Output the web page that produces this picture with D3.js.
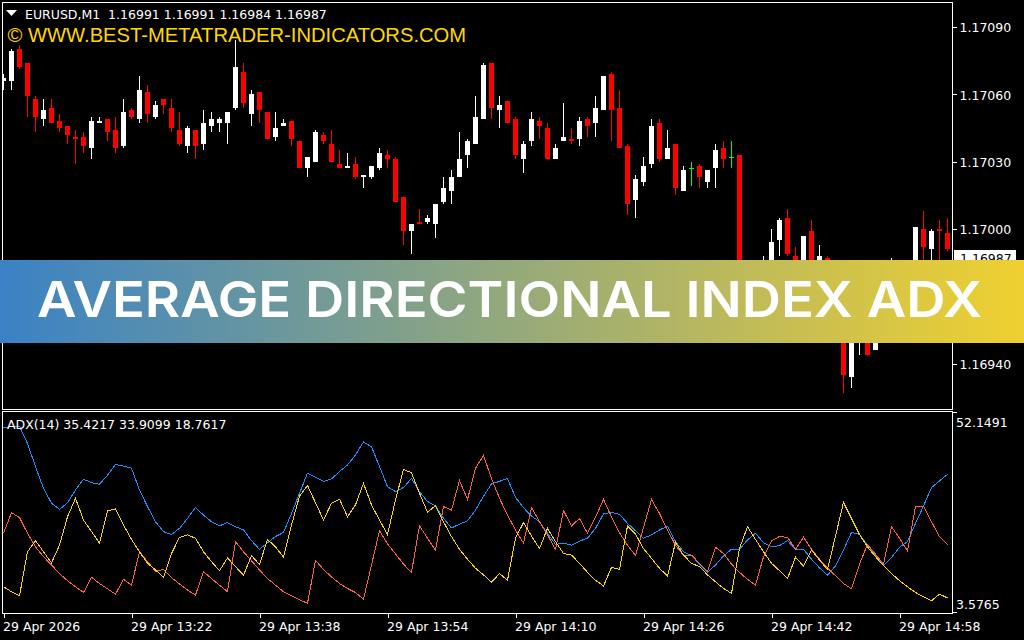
<!DOCTYPE html>
<html>
<head>
<meta charset="utf-8">
<script src="https://cdn.jsdelivr.net/npm/d3@7"></script>
<style>
  html, body { margin: 0; padding: 0; background: #000; }
  svg { display: block; }
  text { font-family: "DejaVu Sans", sans-serif; font-size: 12.5px; fill: #fff; }
</style>
</head>
<body>
<svg id="chart" width="1024" height="640"></svg>
<script>
// candle values, in points above/below 1.17000
const highs = [69,80,82,74,59,58,58,51,46,44,43,50,50,49,50,58,54,68,64,57,58,58,52,46,44,53,52,50,52,84,74,62,61,52,52,49,48,39,32,44,43,44,35,
  34,32,24,28,36,35,32,14,2,9,6,11,23,26,43,40,59,74,74,59,57,50,39,52,50,47,38,56,45,50,50,59,68,70,62,38,24,32,49,49,44,38,
  28,30,29,26,38,39,39,33,-21,-18,-12,0,5,9,-8,-3,4,-7,-12,-27,-41,-43,-45,-43,-41,-18,-13,-15,-16,1,8,0,4,5];
const lows = [62,62,71,50,43,46,47,43,38,29,34,31,47,39,34,36,49,47,47,49,51,43,37,34,31,35,43,43,38,53,54,46,47,40,39,46,37,27,23,30,38,30,27,
  27,22,18,22,26,27,12,-7,-11,2,2,-4,11,11,23,27,38,49,49,45,47,31,25,37,40,31,31,39,38,37,41,41,53,39,36,6,5,19,27,30,31,15,
  17,19,18,18,18,27,27,-35,-34,-36,-27,-23,-12,-12,-17,-25,-27,-28,-36,-50,-73,-71,-56,-56,-54,-50,-36,-30,-25,-23,-15,-16,-16,-10];
const opens = [66,66,80,74,58,49,54,48,46,41,41,36,47,49,44,37,53,49,61,50,58,54,44,37,44,38,46,47,47,54,70,51,61,52,41,46,48,39,27,30,42,38,29,
  27,29,23,23,27,33,31,14,-1,3,3,2,12,17,23,33,38,49,74,53,57,49,31,39,48,45,31,39,40,40,49,47,53,69,54,37,13,21,29,47,31,38,
  17,27,28,21,27,36,32,33,-27,-32,-25,-18,-5,5,-12,-21,-1,-25,-13,-32,-43,-66,-51,-45,-54,-47,-34,-27,-18,-21,0,-9,0,-2];
const closes = [67,79,72,59,50,53,47,45,42,40,37,48,48,43,36,52,50,62,51,55,55,45,38,45,37,47,49,49,52,72,56,60,53,40,45,47,40,27,32,43,39,30,27,
  28,23,24,28,34,31,12,-1,2,2,5,11,18,23,31,39,50,73,54,55,47,33,38,49,46,31,36,41,39,48,46,54,68,53,36,11,22,28,46,31,36,18,
  26,27,23,26,35,31,32,-32,-32,-23,-16,-6,4,-11,-15,-3,-23,-12,-32,-45,-65,-45,-47,-56,-47,-32,-25,-18,-23,1,-8,-1,-1,-9];

// indicator lines, one value per bar
const adxMain = [48.4,48.6,48.7,44.5,38.9,33.6,30.0,28.5,30.1,33.2,35.8,35.0,34.6,36.8,39.4,39.0,38.5,33.2,29.2,25.5,23.1,22.4,23.9,26.3,29.0,27.1,25.5,24.5,25.3,24.3,23.5,20.9,18.8,20.4,21.9,22.9,27.5,32.4,37.3,36.3,35.3,35.9,37.7,
  39.3,41.7,44.9,43.7,38.9,34.0,32.8,33.8,36.0,32.8,30.4,29.4,26.3,24.0,24.9,25.7,28.3,31.7,34.7,35.3,36.0,31.4,28.9,26.9,25.5,22.7,20.0,20.3,19.8,20.8,21.5,23.9,27.4,27.8,27.3,25.1,23.3,21.5,22.3,23.5,24.4,20.7,
  18.2,17.3,15.2,13.2,15.0,17.2,18.8,18.8,21.1,22.7,20.4,19.4,19.7,20.9,18.8,18.8,16.4,14.3,12.5,14.8,18.6,22.9,22.4,19.8,17.4,14.8,16.8,19.3,20.7,25.1,29.3,33.8,35.4,37.0];
const plusDi = [9.7,8.5,7.5,18.2,20.9,18.2,15.5,19.8,26.7,31.2,25.9,23.1,20.3,28.1,28.6,24.7,21.2,18.2,15.4,13.8,12.0,17.8,21.7,22.3,21.5,18.2,15.8,13.6,16.7,14.6,12.5,17.3,15.1,21.2,19.4,16.9,24.7,31.7,34.3,30.1,25.9,30.0,31.0,
  26.7,29.6,34.8,29.6,25.9,22.4,30.8,38.2,37.4,32.4,27.8,29.4,25.5,21.9,18.8,16.4,14.2,12.6,10.8,12.9,11.3,21.5,25.3,22.0,19.0,23.9,20.7,17.8,17.4,15.4,13.2,11.3,9.9,14.4,13.9,24.5,22.5,19.0,16.6,14.2,12.3,20.5,
  17.4,15.4,14.6,12.6,10.9,9.3,8.1,19.0,24.3,21.2,18.2,15.4,13.6,11.7,16.9,14.7,18.6,16.2,13.9,22.0,30.2,26.3,22.4,19.4,17.0,14.8,12.9,11.2,9.7,8.3,7.3,6.3,7.9,7.0];
const minusDi = [22.7,27.7,26.5,22.7,19.4,17.0,15.0,12.9,11.2,9.7,8.3,12.0,10.5,9.2,7.9,11.5,10.1,18.2,15.8,13.5,13.9,11.9,10.4,8.9,7.7,13.4,11.7,10.1,8.5,20.7,18.2,16.0,13.8,11.7,10.1,8.5,7.5,6.5,5.7,16.1,13.9,12.1,10.5,
  9.3,8.3,6.7,15.0,23.3,20.1,17.7,15.2,13.2,24.5,21.5,18.6,29.2,28.3,35.5,30.9,38.5,41.6,36.0,31.2,27.1,23.5,20.3,28.9,25.5,22.3,18.8,28.2,24.5,26.3,22.7,26.6,30.9,26.7,22.8,19.8,17.3,24.1,30.9,27.5,23.5,19.8,
  17.3,17.4,15.4,13.4,19.3,17.8,15.2,13.2,11.5,10.1,17.0,20.9,21.9,21.7,18.8,21.7,18.8,16.4,14.2,12.4,10.5,9.2,15.2,20.0,17.6,15.2,24.3,21.5,18.4,29.2,29.3,25.5,21.9,19.9];

// axis labels
const priceTicks = [90, 60, 30, 0, -60];
const timeTickBars = [0, 16, 32, 48, 64, 80, 96, 112];
const timeLabels = ["29 Apr 2026", "29 Apr 13:22", "29 Apr 13:38", "29 Apr 13:54", "29 Apr 14:10", "29 Apr 14:26", "29 Apr 14:42", "29 Apr 14:58"];
const lastPrice = -13;
const adxMax = 52.1491, adxMin = 3.5765;

const left = 2.5, right = 952.5, mainTop = 2.5, mainBottom = 409.5, subTop = 411.5, subBottom = 613.5;

const svg = d3.select("#chart");
svg.append("rect").attr("width", 1024).attr("height", 640).attr("fill", "#000");

const defs = svg.append("defs");
defs.append("clipPath").attr("id", "mainClip").append("rect")
    .attr("x", left).attr("y", mainTop).attr("width", right - left).attr("height", mainBottom - mainTop);
defs.append("clipPath").attr("id", "subClip").append("rect")
    .attr("x", left).attr("y", subTop).attr("width", right - left).attr("height", subBottom - subTop);

const x = d3.scaleLinear().domain([0, 118]).range([3.5, 947.5]);
const y = d3.scaleLinear().domain([90, -60]).range([26.7, 363.7]);
const yAdx = d3.scaleLinear().domain([adxMin, adxMax]).range([612, 412]);

// candles
const bars = d3.range(highs.length);
const candleColor = i => opens[i] === closes[i] ? "#00ff00" : closes[i] > opens[i] ? "#fff" : "#ff0000";
const candles = svg.append("g").attr("clip-path", "url(#mainClip)").attr("shape-rendering", "crispEdges");

candles.selectAll(".wick")
    .data(bars)
    .enter()
    .append("rect")
    .attr("class", "wick")
    .attr("x", i => x(i) - 0.5)
    .attr("width", 1)
    .attr("y", i => y(highs[i]))
    .attr("height", i => y(lows[i]) - y(highs[i]))
    .attr("fill", candleColor);

candles.selectAll(".body")
    .data(bars)
    .enter()
    .append("rect")
    .attr("class", "body")
    .attr("x", i => x(i) - 2.5)
    .attr("width", 5)
    .attr("y", i => y(Math.max(opens[i], closes[i])))
    .attr("height", i => Math.max(1, Math.abs(y(opens[i]) - y(closes[i]))))
    .attr("fill", candleColor);

// indicator lines
const line = d3.line().x((d, i) => x(i)).y(d => yAdx(d));
const lines = svg.append("g").attr("clip-path", "url(#subClip)");
[[adxMain, "#1e90ff"], [minusDi, "#ff6347"], [plusDi, "#ffd700"]].forEach(([values, color]) => {
    lines.append("path")
        .attr("d", line(values))
        .attr("fill", "none")
        .attr("stroke", color)
        .attr("stroke-width", 1)
        .attr("shape-rendering", "crispEdges");
});

// panel frames
[[mainTop, mainBottom], [subTop, subBottom]].forEach(([top, bottom]) => {
    svg.append("rect")
        .attr("x", left).attr("y", top)
        .attr("width", right - left).attr("height", bottom - top)
        .attr("fill", "none").attr("stroke", "#fff").attr("stroke-width", 1)
        .attr("shape-rendering", "crispEdges");
});

// axes
const priceAxis = svg.append("g")
    .attr("transform", `translate(${right},0)`)
    .call(d3.axisRight(y).tickValues(priceTicks).tickSize(4).tickPadding(3)
        .tickFormat(d => (1.17 + d / 100000).toFixed(5)));
priceAxis.select(".domain").remove();
priceAxis.selectAll("line").attr("stroke", "#fff").attr("shape-rendering", "crispEdges");
priceAxis.selectAll("text").attr("dy", "0.4em");

const timeAxis = svg.append("g")
    .attr("transform", `translate(0,${subBottom})`)
    .call(d3.axisBottom(x).tickValues(timeTickBars).tickSize(4).tickPadding(5)
        .tickFormat((d, i) => timeLabels[i]));
timeAxis.select(".domain").remove();
timeAxis.selectAll("line").attr("stroke", "#fff").attr("shape-rendering", "crispEdges");
timeAxis.selectAll("text").attr("text-anchor", "start").attr("x", -1);

[[adxMax, 427, 412], [adxMin, 609, 612]].forEach(([v, base, tickY]) => {
    svg.append("line").attr("x1", right).attr("x2", right + 4).attr("y1", tickY).attr("y2", tickY)
        .attr("stroke", "#fff").attr("shape-rendering", "crispEdges");
    svg.append("text").attr("x", 956).attr("y", base).text(v.toFixed(4));
});

// last price box
svg.append("rect").attr("x", 954).attr("y", 250).attr("width", 62).attr("height", 16).attr("fill", "#fff");
svg.append("text").attr("x", 960).attr("y", 263).text((1.17 + lastPrice / 100000).toFixed(5)).style("fill", "#000");

// chart labels
svg.append("path").attr("d", "M6,10H17L11.5,16Z").attr("fill", "#fff");
svg.append("text").attr("x", 25).attr("y", 18.5).attr("xml:space", "preserve")
    .text("EURUSD,M1  1.16991 1.16991 1.16984 1.16987");
svg.append("text").attr("x", 7.5).attr("y", 42)
    .text("© WWW.BEST-METATRADER-INDICATORS.COM")
    .style("font-family", "'Liberation Sans', Arial, sans-serif").style("font-size", "20.2px").style("fill", "#ffd700");
svg.append("text").attr("x", 7).attr("y", 429).text("ADX(14) 35.4217 33.9099 18.7617");

// title banner
const gradient = defs.append("linearGradient").attr("id", "bannerFill");
gradient.append("stop").attr("offset", "0%").attr("stop-color", "#3a82c6");
gradient.append("stop").attr("offset", "100%").attr("stop-color", "#f0d030");
svg.append("rect").attr("x", 0).attr("y", 260).attr("width", 1024).attr("height", 83).attr("fill", "url(#bannerFill)");
svg.append("text").attr("x", 37).attr("y", 317)
    .text("AVERAGE DIRECTIONAL INDEX ADX")
    .attr("textLength", 945).attr("lengthAdjust", "spacingAndGlyphs")
    .style("font-family", "Inter, 'Open Sans', sans-serif").style("font-size", "50px").style("font-weight", 600);
</script>
</body>
</html>
